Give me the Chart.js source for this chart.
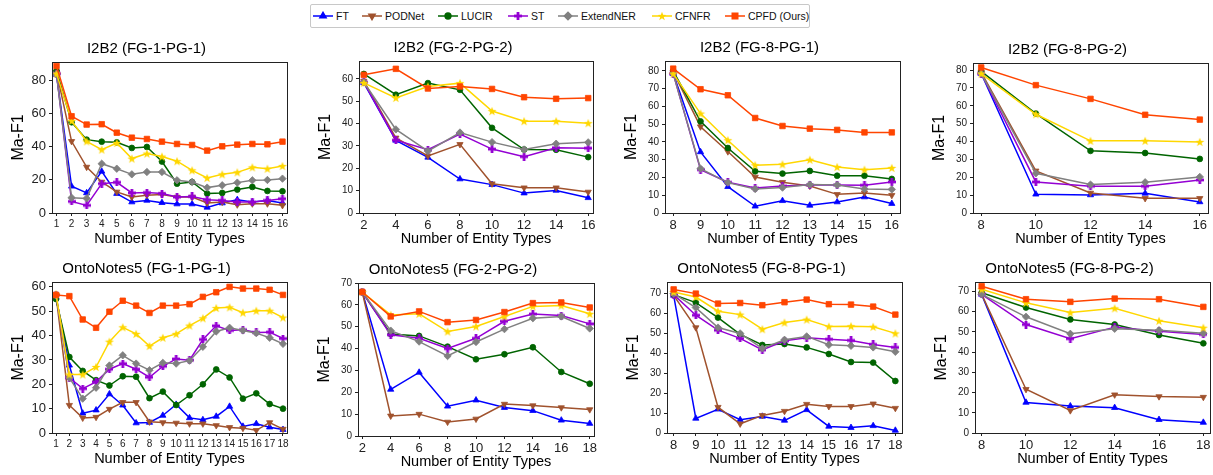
<!DOCTYPE html>
<html>
<head>
<meta charset="utf-8">
<script src="https://cdn.jsdelivr.net/npm/chart.js@4.4.0/dist/chart.umd.min.js"></script>
<style>
  html, body { margin: 0; padding: 0; background: #fff; overflow: hidden; }
  body { width: 1213px; height: 475px; position: relative; font-family: 'Liberation Sans', Arial, sans-serif; }
  canvas.panel { position: absolute; }
  #legend { position: absolute; left: 310px; top: 4px; width: 498px; height: 22px; border: 1px solid #c8c8c8; border-radius: 2px; }
  .item { position: absolute; top: 0; height: 22px; line-height: 22px; font-size: 10.5px; color: #111; white-space: nowrap; }
  .item canvas { vertical-align: middle; margin-right: 3px; position: relative; top: -1px; }
</style>
</head>
<body>
<div id="legend"></div>
<script>
// ---------------- data ----------------
const methods = ['FT', 'PODNet', 'LUCIR', 'ST', 'ExtendNER', 'CFNFR', 'CPFD (Ours)'];

// I2B2 (FG-1-PG-1)
const i2b2_11_x = [1, 2, 3, 4, 5, 6, 7, 8, 9, 10, 11, 12, 13, 14, 15, 16];
const i2b2_11_ft = [83.4, 16.1, 12.1, 25.1, 11.7, 6.6, 7.6, 6.2, 5.4, 5.4, 3.4, 6.0, 8.0, 6.6, 7.6, 6.0];
const i2b2_11_pod = [85.0, 43.2, 27.7, 18.7, 12.7, 9.6, 10.7, 11.1, 9.6, 9.6, 6.0, 6.6, 5.0, 5.6, 5.6, 4.6];
const i2b2_11_lucir = [85.6, 54.7, 44.2, 43.0, 42.6, 39.2, 39.8, 31.0, 17.7, 18.7, 11.7, 12.1, 14.1, 15.7, 13.3, 13.1];
const i2b2_11_st = [84.0, 7.0, 4.6, 17.7, 18.5, 12.1, 12.3, 11.7, 9.6, 10.0, 8.0, 7.6, 6.6, 6.6, 7.6, 8.6];
const i2b2_11_ext = [83.5, 9.2, 8.8, 29.7, 26.7, 23.3, 24.7, 24.7, 19.7, 18.7, 15.3, 16.7, 18.3, 19.7, 19.9, 20.7];
const i2b2_11_cfnfr = [84.0, 55.5, 43.2, 38.2, 42.2, 32.8, 35.8, 34.0, 31.2, 25.7, 21.1, 23.3, 24.5, 27.5, 26.7, 28.3];
const i2b2_11_cpfd = [88.6, 58.3, 53.3, 53.5, 48.4, 45.4, 44.6, 43.0, 41.6, 41.0, 37.6, 40.2, 41.2, 41.6, 41.4, 43.0];

// I2B2 (FG-2-PG-2)
const i2b2_22_x = [2, 4, 6, 8, 10, 12, 14, 16];
const i2b2_22_ft = [58.2, 32.5, 24.9, 15.2, 12.7, 8.9, 10.1, 6.8];
const i2b2_22_pod = [59.0, 33.6, 25.5, 30.7, 13.1, 11.3, 11.3, 9.4];
const i2b2_22_lucir = [62.2, 52.9, 58.1, 55.1, 38.1, 28.4, 28.3, 25.0];
const i2b2_22_st = [58.5, 32.6, 28.3, 35.3, 28.6, 25.2, 29.2, 29.0];
const i2b2_22_ext = [58.5, 37.4, 27.7, 36.0, 31.7, 28.4, 31.0, 31.6];
const i2b2_22_cfnfr = [58.2, 51.5, 56.6, 58.1, 45.6, 41.1, 41.1, 40.2];
const i2b2_22_cpfd = [61.8, 64.5, 55.7, 56.6, 55.5, 51.8, 51.1, 51.4];

// I2B2 (FG-8-PG-1)
const i2b2_81_x = [8, 9, 10, 11, 12, 13, 14, 15, 16];
const i2b2_81_ft = [78.5, 34.4, 14.8, 3.8, 6.9, 4.3, 6.2, 9.0, 5.3];
const i2b2_81_pod = [79.4, 48.6, 34.6, 20.3, 17.3, 15.2, 10.5, 11.3, 10.0];
const i2b2_81_lucir = [80.0, 51.6, 36.6, 23.5, 22.2, 23.7, 21.0, 21.0, 19.2];
const i2b2_81_st = [78.5, 24.4, 17.3, 14.1, 15.2, 15.8, 15.8, 15.6, 17.5];
const i2b2_81_ext = [78.5, 25.0, 17.1, 13.5, 14.3, 16.0, 15.8, 13.5, 13.3];
const i2b2_81_cfnfr = [78.5, 56.0, 41.0, 26.9, 27.4, 30.0, 25.9, 24.4, 25.4];
const i2b2_81_cpfd = [81.3, 69.7, 66.3, 53.5, 49.0, 47.5, 46.8, 45.4, 45.4];

// I2B2 (FG-8-PG-2)
const i2b2_82_x = [8, 10, 12, 14, 16];
const i2b2_82_ft = [78.1, 10.5, 10.1, 11.0, 6.2];
const i2b2_82_pod = [78.7, 23.6, 11.2, 8.2, 8.2];
const i2b2_82_lucir = [79.3, 55.7, 34.8, 33.6, 30.3];
const i2b2_82_st = [78.1, 17.4, 15.0, 15.0, 18.5];
const i2b2_82_ext = [78.1, 22.2, 15.9, 17.2, 20.2];
const i2b2_82_cfnfr = [78.1, 55.3, 40.4, 40.4, 39.8];
const i2b2_82_cpfd = [81.5, 71.6, 63.9, 55.0, 52.3];

// OntoNotes5 (FG-1-PG-1)
const onto_11_x = [1, 2, 3, 4, 5, 6, 7, 8, 9, 10, 11, 12, 13, 14, 15, 16, 17, 18];
const onto_11_ft = [55.7, 27.8, 8.1, 9.4, 16.0, 11.4, 4.1, 4.3, 7.2, 11.7, 6.2, 5.4, 6.8, 10.9, 2.7, 3.8, 2.4, 1.4];
const onto_11_pod = [56.7, 11.4, 6.2, 6.5, 9.8, 12.6, 12.6, 4.6, 4.3, 4.1, 3.8, 3.8, 3.1, 2.3, 2.0, 1.1, 4.3, 1.6];
const onto_11_lucir = [55.0, 31.2, 25.5, 21.7, 19.5, 23.3, 23.1, 14.3, 17.0, 11.5, 15.5, 20.0, 26.1, 22.8, 14.1, 16.3, 11.9, 10.0];
const onto_11_st = [56.7, 22.7, 18.2, 21.0, 26.2, 28.5, 26.2, 22.9, 27.4, 30.4, 29.9, 38.4, 44.0, 42.1, 42.4, 41.3, 41.4, 38.8];
const onto_11_ext = [56.5, 22.7, 14.1, 18.6, 27.7, 31.9, 28.5, 25.8, 28.8, 28.5, 29.7, 35.4, 41.7, 43.2, 42.1, 41.0, 39.1, 36.6];
const onto_11_cfnfr = [57.0, 24.0, 24.0, 27.1, 37.5, 43.4, 40.7, 35.7, 39.1, 40.7, 44.1, 47.1, 51.3, 51.6, 49.4, 50.2, 50.2, 47.4];
const onto_11_cpfd = [56.7, 56.2, 46.6, 43.2, 49.8, 54.3, 52.3, 49.3, 52.3, 52.3, 52.9, 55.9, 57.8, 60.0, 59.3, 59.3, 58.8, 56.7];

// OntoNotes5 (FG-2-PG-2)
const onto_22_x = [2, 4, 6, 8, 10, 12, 14, 16, 18];
const onto_22_ft = [65.9, 21.3, 29.1, 13.6, 16.4, 13.0, 11.6, 7.2, 5.7];
const onto_22_pod = [65.9, 9.2, 10.0, 6.4, 7.8, 14.6, 13.9, 13.0, 12.1];
const onto_22_lucir = [65.9, 46.7, 45.8, 40.9, 35.1, 37.4, 40.6, 29.3, 23.9];
const onto_22_st = [65.9, 46.3, 44.7, 40.0, 44.7, 52.5, 55.8, 55.1, 51.3];
const onto_22_ext = [65.9, 48.2, 43.2, 36.6, 43.0, 48.9, 53.9, 54.7, 49.2];
const onto_22_cfnfr = [65.9, 55.4, 55.9, 47.8, 50.1, 54.7, 59.3, 59.7, 55.9];
const onto_22_cpfd = [65.9, 54.7, 57.0, 52.1, 53.1, 56.7, 60.8, 61.1, 58.8];

// OntoNotes5 (FG-8-PG-1)
const onto_81_x = [8, 9, 10, 11, 12, 13, 14, 15, 16, 17, 18];
const onto_81_ft = [68.8, 7.3, 11.9, 6.6, 8.3, 6.3, 11.6, 3.3, 2.7, 3.6, 1.3];
const onto_81_pod = [68.8, 52.7, 12.9, 4.6, 8.8, 10.9, 14.4, 13.3, 13.3, 14.6, 12.4];
const onto_81_lucir = [69.2, 65.2, 57.7, 49.3, 44.0, 44.5, 42.8, 39.5, 35.5, 35.2, 26.0];
const onto_81_st = [69.2, 58.9, 51.4, 47.3, 41.5, 46.1, 47.6, 46.9, 46.3, 44.3, 42.8];
const onto_81_ext = [69.7, 62.7, 52.7, 49.8, 42.3, 46.6, 48.3, 44.1, 43.6, 42.8, 40.6];
const onto_81_cfnfr = [70.5, 68.0, 60.9, 59.2, 51.9, 55.2, 56.7, 53.2, 53.4, 53.1, 49.8];
const onto_81_cpfd = [71.8, 69.7, 64.7, 65.0, 63.9, 65.4, 66.7, 64.4, 64.2, 63.2, 59.2];

// OntoNotes5 (FG-8-PG-2)
const onto_82_x = [8, 10, 12, 14, 16, 18];
const onto_82_ft = [68.5, 15.1, 13.3, 12.5, 6.6, 5.2];
const onto_82_pod = [68.5, 21.6, 11.1, 18.9, 18.0, 17.7];
const onto_82_lucir = [69.3, 62.0, 56.1, 53.6, 48.4, 44.3];
const onto_82_st = [68.5, 53.6, 46.6, 52.3, 50.3, 48.7];
const onto_82_ext = [68.5, 57.4, 49.0, 51.5, 50.8, 49.3];
const onto_82_cfnfr = [71.0, 64.3, 59.5, 61.6, 55.4, 52.0];
const onto_82_cpfd = [72.5, 66.1, 64.8, 66.4, 66.1, 62.3];

// ---------------- styling ----------------
const FONT = "'Liberation Sans', Arial, sans-serif";
const colors = ['#0000ff', '#a0522d', '#006400', '#9400d3', '#808080', '#ffd700', '#ff4500'];

function starMarker(color) {
    const c = document.createElement('canvas');
    c.width = 10; c.height = 10;
    const g = c.getContext('2d');
    g.fillStyle = color;
    g.beginPath();
    for (let i = 0; i < 10; i++) {
        const r = i % 2 ? 1.9 : 4.7;
        const a = -Math.PI / 2 + i * Math.PI / 5;
        g.lineTo(5 + r * Math.cos(a), 5.4 + r * Math.sin(a));
    }
    g.closePath();
    g.fill();
    return c;
}

function plusMarker(color) {
    const c = document.createElement('canvas');
    c.width = 8; c.height = 8;
    const g = c.getContext('2d');
    g.fillStyle = color;
    g.fillRect(0, 2.6, 8, 2.8);
    g.fillRect(2.6, 0, 2.8, 8);
    return c;
}

const markers = ['triangle', 'triangle', 'circle', plusMarker(colors[3]), 'rectRot', starMarker(colors[5]), 'rect'];
const markerRot = [0, 180, 0, 0, 0, 0, 0];
const markerSize = [3.6, 3.6, 2.9, 3.5, 3.7, 3.5, 3.9];

// panel layout: chart area [left, top, right, bottom] in page pixels
const panels = [
    { title: 'I2B2 (FG-1-PG-1)', x: i2b2_11_x, ys: [i2b2_11_ft, i2b2_11_pod, i2b2_11_lucir, i2b2_11_st, i2b2_11_ext, i2b2_11_cfnfr, i2b2_11_cpfd],
      area: [52, 62, 287, 213], yMax: 91, yStep: 20, xStep: 1, yFont: 13, xFont: 10 },
    { title: 'I2B2 (FG-2-PG-2)', x: i2b2_22_x, ys: [i2b2_22_ft, i2b2_22_pod, i2b2_22_lucir, i2b2_22_st, i2b2_22_ext, i2b2_22_cfnfr, i2b2_22_cpfd],
      area: [359, 61, 593, 213], yMax: 68, yStep: 10, xStep: 2, yFont: 10, xFont: 13 },
    { title: 'I2B2 (FG-8-PG-1)', x: i2b2_81_x, ys: [i2b2_81_ft, i2b2_81_pod, i2b2_81_lucir, i2b2_81_st, i2b2_81_ext, i2b2_81_cfnfr, i2b2_81_cpfd],
      area: [665, 61, 900, 213], yMax: 85.6, yStep: 10, xStep: 1, yFont: 10, xFont: 13 },
    { title: 'I2B2 (FG-8-PG-2)', x: i2b2_82_x, ys: [i2b2_82_ft, i2b2_82_pod, i2b2_82_lucir, i2b2_82_st, i2b2_82_ext, i2b2_82_cfnfr, i2b2_82_cpfd],
      area: [973, 63, 1208, 213], yMax: 84, yStep: 10, xStep: 2, yFont: 10, xFont: 13 },
    { title: 'OntoNotes5 (FG-1-PG-1)', x: onto_11_x, ys: [onto_11_ft, onto_11_pod, onto_11_lucir, onto_11_st, onto_11_ext, onto_11_cfnfr, onto_11_cpfd],
      area: [52, 282, 287, 433], yMax: 62, yStep: 10, xStep: 1, yFont: 13, xFont: 10 },
    { title: 'OntoNotes5 (FG-2-PG-2)', x: onto_22_x, ys: [onto_22_ft, onto_22_pod, onto_22_lucir, onto_22_st, onto_22_ext, onto_22_cfnfr, onto_22_cpfd],
      area: [358, 283, 594, 436], yMax: 70, yStep: 10, xStep: 2, yFont: 10, xFont: 13 },
    { title: 'OntoNotes5 (FG-8-PG-1)', x: onto_81_x, ys: [onto_81_ft, onto_81_pod, onto_81_lucir, onto_81_st, onto_81_ext, onto_81_cfnfr, onto_81_cpfd],
      area: [667, 282, 902, 433], yMax: 75.5, yStep: 10, xStep: 1, yFont: 10, xFont: 13 },
    { title: 'OntoNotes5 (FG-8-PG-2)', x: onto_82_x, ys: [onto_82_ft, onto_82_pod, onto_82_lucir, onto_82_st, onto_82_ext, onto_82_cfnfr, onto_82_cpfd],
      area: [975, 282, 1210, 433], yMax: 74.6, yStep: 10, xStep: 2, yFont: 10, xFont: 13 }
];

const Y_W = 46, TITLE_H = 22, X_H = 37, PAD_R = 10;

// full frame around the plot area, like matplotlib spines
const framePlugin = {
    id: 'frame',
    afterDraw(chart) {
        const a = chart.chartArea, ctx = chart.ctx;
        ctx.save();
        ctx.strokeStyle = '#222';
        ctx.lineWidth = 1;
        ctx.strokeRect(Math.round(a.left) + 0.5, Math.round(a.top) + 0.5, Math.round(a.right - a.left), Math.round(a.bottom - a.top));
        ctx.restore();
    }
};

panels.forEach(function (p) {
    const [l, t, r, b] = p.area;
    const cv = document.createElement('canvas');
    cv.className = 'panel';
    cv.width = Y_W + (r - l) + PAD_R;
    cv.height = TITLE_H + (b - t) + X_H;
    cv.style.left = (l - Y_W) + 'px';
    cv.style.top = (t - TITLE_H) + 'px';
    document.body.appendChild(cv);

    const datasets = p.ys.map(function (ys, i) {
        return {
            label: methods[i],
            data: p.x.map((x, k) => ({ x: x, y: ys[k] })),
            borderColor: colors[i],
            backgroundColor: colors[i],
            borderWidth: 1.5,
            pointStyle: markers[i],
            rotation: markerRot[i],
            pointRadius: markerSize[i],
            pointBorderWidth: 0.8,
            tension: 0,
            order: 6 - i
        };
    });

    new Chart(cv, {
        type: 'line',
        data: { datasets: datasets },
        options: {
            responsive: false,
            animation: false,
            layout: { padding: { top: 0, left: 0, right: PAD_R, bottom: 0 } },
            plugins: {
                legend: { display: false },
                tooltip: { enabled: false },
                title: {
                    display: true, text: p.title, color: '#000',
                    font: { family: FONT, size: 15, weight: 'normal' },
                    padding: { top: 0, bottom: 4 }
                }
            },
            scales: {
                x: {
                    type: 'linear',
                    min: p.x[0] - 0.3,
                    max: p.x[p.x.length - 1] + 0.3,
                    afterFit: s => { s.height = X_H; },
                    ticks: { stepSize: p.xStep, autoSkip: false, maxRotation: 0, includeBounds: false,
                             color: '#222', padding: 2, font: { family: FONT, size: p.xFont } },
                    grid: { drawOnChartArea: false, tickLength: 3, color: '#222' },
                    border: { display: false },
                    title: { display: true, text: 'Number of Entity Types', color: '#000',
                             font: { family: FONT, size: 14.5 }, padding: { top: 0, bottom: 2 } }
                },
                y: {
                    min: 0,
                    max: p.yMax,
                    afterFit: s => { s.width = Y_W; },
                    ticks: { stepSize: p.yStep, includeBounds: false, color: '#222', padding: 3,
                             font: { family: FONT, size: p.yFont } },
                    grid: { drawOnChartArea: false, tickLength: 3, color: '#222' },
                    border: { display: false },
                    title: { display: true, text: 'Ma-F1', color: '#000',
                             font: { family: FONT, size: 16 }, padding: { top: 3, bottom: 0 } }
                }
            }
        },
        plugins: [framePlugin]
    });
});

// ---------------- shared legend ----------------
const legendX = [2, 51, 127, 197, 247, 341, 414];
const legend = document.getElementById('legend');
methods.forEach(function (name, i) {
    const item = document.createElement('div');
    item.className = 'item';
    item.style.left = legendX[i] + 'px';
    const sw = document.createElement('canvas');
    sw.width = 20; sw.height = 10;
    const g = sw.getContext('2d');
    g.strokeStyle = colors[i];
    g.fillStyle = colors[i];
    g.lineWidth = 1.5;
    g.beginPath(); g.moveTo(0, 5); g.lineTo(20, 5); g.stroke();
    Chart.helpers.drawPoint(g, { pointStyle: markers[i], rotation: markerRot[i], radius: markerSize[i], borderWidth: 0.8 }, 10, 5);
    item.appendChild(sw);
    item.appendChild(document.createTextNode(name));
    legend.appendChild(item);
});
</script>
</body>
</html>
